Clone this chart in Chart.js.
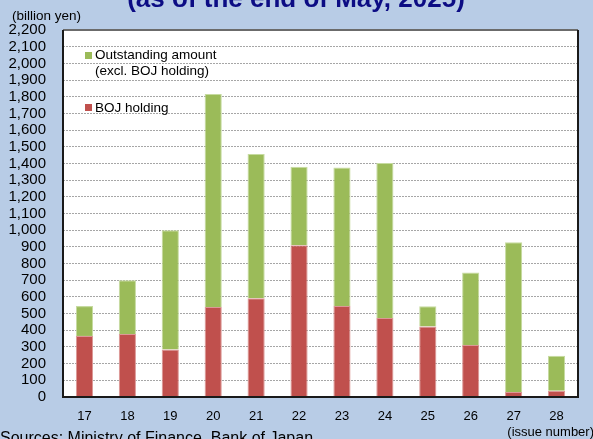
<!DOCTYPE html>
<html>
<head>
<meta charset="utf-8">
<script src="https://cdn.jsdelivr.net/npm/chart.js@4.4.1/dist/chart.umd.min.js"></script>
<style>
  html, body { margin: 0; padding: 0; background: #b8cce6; }
  canvas { display: block; }
</style>
</head>
<body>
<canvas id="bondChart" width="593" height="439"></canvas>
<script>
// issue numbers along the bottom
const issues = ['17', '18', '19', '20', '21', '22', '23', '24', '25', '26', '27', '28'];
// billion yen
const bojHolding = [366, 378, 284, 540, 592, 910, 546, 474, 422, 312, 30, 38];
const outstandingExBoj = [179, 322, 716, 1276, 864, 470, 830, 928, 122, 434, 898, 210];
const yMin = 0;
const yMax = 2200;
const yStep = 100;

const titleText = '(as of the end of May, 2025)';
const unitText = '(billion yen)';
const xUnitText = '(issue number)';
const sourceText = 'Sources: Ministry of Finance, Bank of Japan.';

const FONT = '"Liberation Sans", Arial, sans-serif';
const GREEN = '#9bbb59';
const RED = '#c0504d';

// page background, white plot area, frame and the loose texts
const decorations = {
    id: 'decorations',
    beforeDraw(chart) {
        const { ctx, chartArea } = chart;
        ctx.save();
        ctx.fillStyle = '#b8cce6';
        ctx.fillRect(0, 0, chart.width, chart.height);
        ctx.fillStyle = '#ffffff';
        ctx.fillRect(chartArea.left, chartArea.top, chartArea.right - chartArea.left, chartArea.bottom - chartArea.top);
        ctx.restore();
    },
    afterDraw(chart) {
        const { ctx, chartArea } = chart;
        ctx.save();

        // frame
        ctx.lineWidth = 2;
        ctx.strokeStyle = '#6b6b6b';
        ctx.beginPath();
        ctx.moveTo(chartArea.left, chartArea.top);
        ctx.lineTo(chartArea.right, chartArea.top);
        ctx.stroke();
        ctx.strokeStyle = '#1a1a1a';
        ctx.beginPath();
        ctx.moveTo(chartArea.right, chartArea.top);
        ctx.lineTo(chartArea.right, chartArea.bottom);
        ctx.lineTo(chartArea.left, chartArea.bottom);
        ctx.lineTo(chartArea.left, chartArea.top);
        ctx.stroke();

        // title, mostly cut off at the top
        ctx.fillStyle = '#0c0c84';
        ctx.font = 'bold 26px ' + FONT;
        ctx.textAlign = 'center';
        ctx.textBaseline = 'alphabetic';
        ctx.fillText(titleText, 296, 7);

        ctx.fillStyle = '#000000';
        ctx.font = '13.5px ' + FONT;
        ctx.textAlign = 'left';
        ctx.textBaseline = 'middle';
        ctx.fillText(unitText, 12, 16);

        ctx.font = '13px ' + FONT;
        ctx.textAlign = 'right';
        ctx.fillText(xUnitText, 594, 432);

        ctx.font = '16px ' + FONT;
        ctx.textAlign = 'left';
        ctx.textBaseline = 'alphabetic';
        ctx.fillText(sourceText, 0, 443);

        // legend inside the plot
        const lx = chartArea.left + 22;
        ctx.font = '13.5px ' + FONT;
        ctx.textBaseline = 'middle';
        ctx.fillStyle = GREEN;
        ctx.fillRect(lx, chartArea.top + 22, 7, 7);
        ctx.fillStyle = RED;
        ctx.fillRect(lx, chartArea.top + 74, 7, 7);
        ctx.fillStyle = '#000000';
        ctx.fillText('Outstanding amount', lx + 10, chartArea.top + 25.5);
        ctx.fillText('(excl. BOJ holding)', lx + 10, chartArea.top + 41);
        ctx.fillText('BOJ holding', lx + 10, chartArea.top + 78);

        ctx.restore();
    }
};

const bondChart = {
    type: 'bar',
    data: {
        labels: issues,
        datasets: [{
            label: 'BOJ holding',
            data: bojHolding,
            backgroundColor: RED,
            borderColor: '#dc9896',
            borderWidth: 1,
            borderSkipped: 'bottom',
            barPercentage: 0.4,
            categoryPercentage: 1
        }, {
            label: 'Outstanding amount (excl. BOJ holding)',
            data: outstandingExBoj,
            backgroundColor: GREEN,
            borderColor: '#c6dba0',
            borderWidth: 1,
            borderSkipped: 'bottom',
            barPercentage: 0.4,
            categoryPercentage: 1
        }]
    },
    options: {
        responsive: false,
        animation: false,
        layout: {
            padding: { left: 0, right: 15, top: 30, bottom: 0 }
        },
        plugins: {
            legend: { display: false },
            tooltip: { enabled: false }
        },
        scales: {
            x: {
                stacked: true,
                grid: { display: false, drawTicks: false },
                border: { display: false },
                ticks: {
                    color: '#000000',
                    font: { family: FONT, size: 13 },
                    padding: 12,
                    maxRotation: 0
                },
                afterFit(scale) { scale.height = 42; }
            },
            y: {
                stacked: true,
                min: yMin,
                max: yMax,
                grid: { color: '#a6a6a6', lineWidth: 1, drawTicks: false },
                border: { display: false, dash: [2, 1] },
                ticks: {
                    stepSize: yStep,
                    autoSkip: false,
                    color: '#000000',
                    font: { family: FONT, size: 15 },
                    padding: 17,
                    callback: (v) => v.toLocaleString('en-US')
                },
                afterFit(scale) { scale.width = 63; }
            }
        }
    },
    plugins: [decorations]
};

const chart = new Chart(document.getElementById('bondChart'), bondChart);
</script>
</body>
</html>
